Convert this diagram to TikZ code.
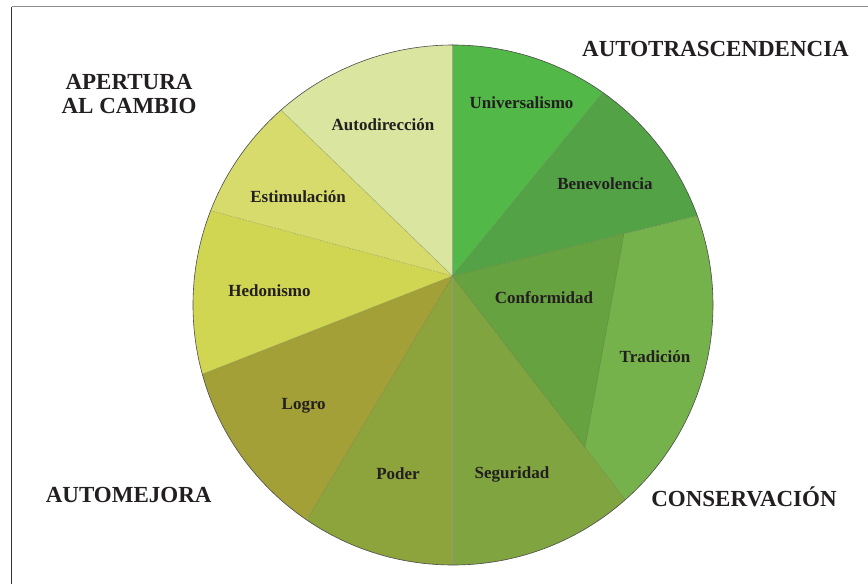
\documentclass[tikz,border=0pt]{standalone}
\usepackage{fontspec}
\setmainfont{Liberation Serif}
\usetikzlibrary{calc}
\definecolor{cUni}{RGB}{82,184,72}
\definecolor{cBen}{RGB}{83,163,70}
\definecolor{cCon}{RGB}{102,162,64}
\definecolor{cTra}{RGB}{118,178,75}
\definecolor{cSeg}{RGB}{128,164,64}
\definecolor{cPod}{RGB}{141,163,60}
\definecolor{cLog}{RGB}{163,160,55}
\definecolor{cHed}{RGB}{208,214,81}
\definecolor{cEst}{RGB}{214,219,108}
\definecolor{cAut}{RGB}{218,229,160}
\definecolor{txt}{RGB}{35,31,32}
\definecolor{sepcol}{RGB}{105,120,70}
\begin{document}
\begin{tikzpicture}[x=1pt,y=-1pt,
  lbl/.style={font=\fontsize{17}{20}\selectfont\bfseries, text=txt, inner sep=0pt},
  cat/.style={font=\fontsize{23}{24}\selectfont\bfseries, text=txt, align=center, inner sep=0pt},
  sepline/.style={draw=sepcol, draw opacity=0.6, line width=0.4pt},
  frameline/.style={line width=1.1pt}]
\useasboundingbox (0,0) rectangle (868,584);
\fill[white] (0,0) rectangle (868,584);
% frame
\coordinate (F1) at (11.5,584);
\coordinate (F2) at (11.5,6.5);
\coordinate (F3) at (868,6.5);
\draw[frameline, draw=black!80] (F1) -- (F2);
\draw[frameline, draw=black!45] (F2) -- (F3);
% geometry
\coordinate (A) at (452.5,276);
\coordinate (C) at (453,305);
\coordinate (Ptop) at (452.5,44);
\coordinate (Pub) at (602.3,93.3);
\coordinate (Pbt) at (696.7,216);
\coordinate (Pts) at (624.7,499);
\coordinate (Pbot) at (452.5,565);
\coordinate (Ppl) at (307.7,518.3);
\coordinate (Plh) at (202.7,374);
\coordinate (Phe) at (211,210.7);
\coordinate (Pea) at (281,110);
\coordinate (Q1) at ($(A)!0.702!(Pbt)$);
\coordinate (Q2) at ($(A)!0.769!(Pts)$);
\begin{scope}
\clip (C) circle[radius=260pt];
\fill[cUni] (A) -- ($(A)!3!(Ptop)$) -- ($(A)!3!(Pub)$) -- cycle;
\fill[cBen] (A) -- ($(A)!3!(Pub)$) -- ($(A)!3!(Pbt)$) -- cycle;
\fill[cTra] (A) -- ($(A)!3!(Pbt)$) -- ($(A)!3!(Pts)$) -- cycle;
\fill[cSeg] (A) -- ($(A)!3!(Pts)$) -- ($(A)!3!(Pbot)$) -- cycle;
\fill[cPod] (A) -- ($(A)!3!(Pbot)$) -- ($(A)!3!(Ppl)$) -- cycle;
\fill[cLog] (A) -- ($(A)!3!(Ppl)$) -- ($(A)!3!(Plh)$) -- cycle;
\fill[cHed] (A) -- ($(A)!3!(Plh)$) -- ($(A)!3!(Phe)$) -- cycle;
\fill[cEst] (A) -- ($(A)!3!(Phe)$) -- ($(A)!3!(Pea)$) -- cycle;
\fill[cAut] (A) -- ($(A)!3!(Pea)$) -- ($(A)!3!(Ptop)$) -- cycle;
\fill[cCon] (A) -- (Q1) -- (Q2) -- cycle;
\end{scope}
% separators
\draw[sepline, draw=black!45, draw opacity=0.7] (A) -- (Ptop);
\draw[sepline] (A) -- (Pub);
\draw[sepline] (A) -- (Pbt);
\draw[sepline] (Q1) -- (Q2);
\draw[sepline] (A) -- (Pts);
\draw[sepline, draw=black!45, draw opacity=0.7] (A) -- (Pbot);
\draw[sepline] (A) -- (Ppl);
\draw[sepline] (A) -- (Plh);
\draw[sepline, dash pattern=on 2pt off 1pt] (A) -- (Phe);
\draw[sepline] (A) -- (Pea);
\draw[draw=black!70, line width=0.6pt] (C) circle[radius=260pt];
% wedge labels
\node[lbl] (uni) at (521.5,103) {Universalismo};
\node[lbl] (ben) at (605,184) {Benevolencia};
\node[lbl] (con) at (544,298) {Conformidad};
\node[lbl] (tra) at (655,357) {Tradición};
\node[lbl] (seg) at (512,474) {Seguridad};
\node[lbl] (pod) at (398,474) {Poder};
\node[lbl] (log) at (303.7,406) {Logro};
\node[lbl] (hed) at (269.5,291) {Hedonismo};
\node[lbl] (est) at (298,197) {Estimulación};
\node[lbl] (aut) at (383,125) {Autodirección};
% category labels
\node[cat] (apc) at (129,94) {APERTURA\\AL CAMBIO};
\node[cat] (atr) at (715.5,49) {AUTOTRASCENDENCIA};
\node[cat] (cns) at (744,497) {CONSERVACIÓN};
\node[cat] (amj) at (128.7,495) {AUTOMEJORA};
\end{tikzpicture}
\end{document}
